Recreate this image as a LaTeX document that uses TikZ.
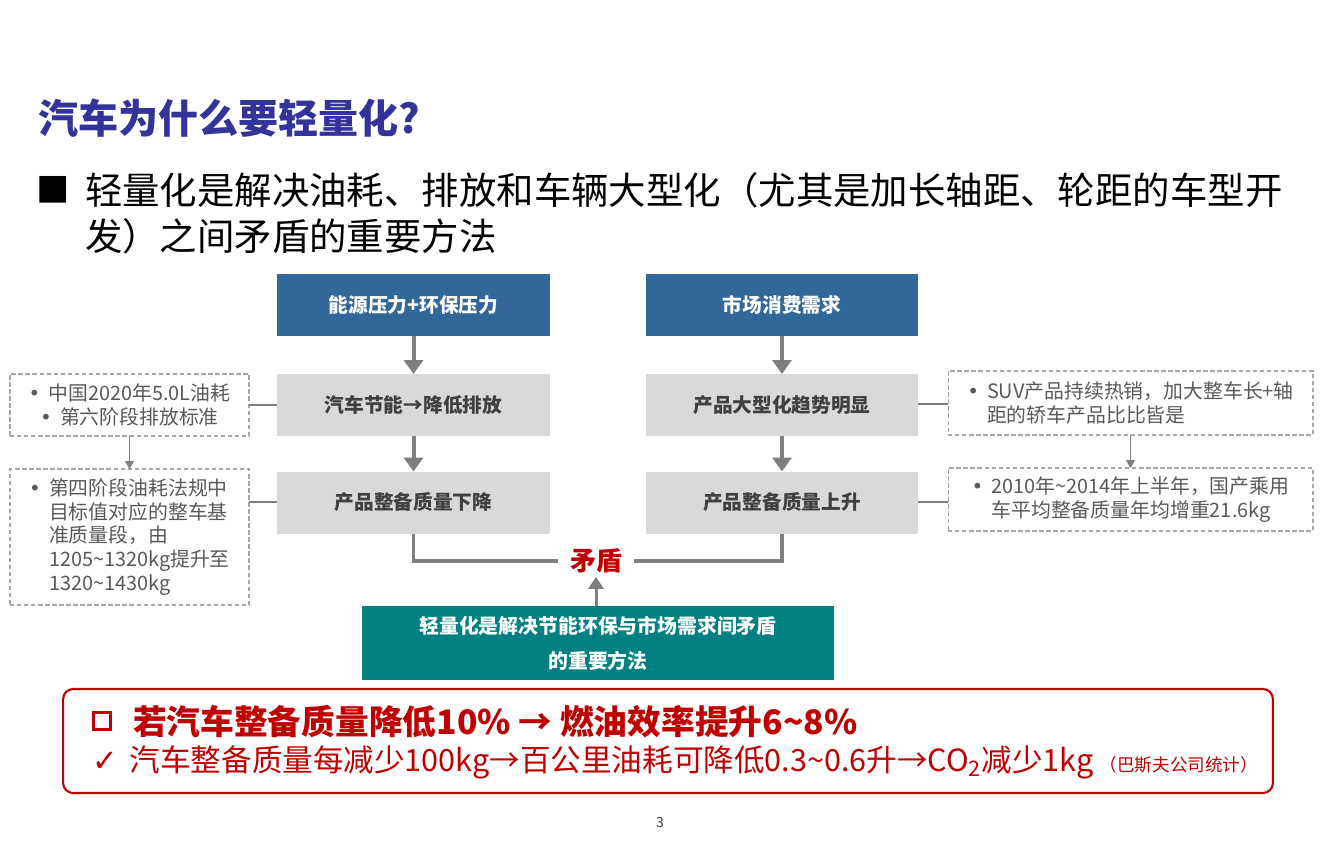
\documentclass[tikz,border=0pt]{standalone}
\usepackage{fontspec}
\setmainfont{Noto Sans CJK SC}
\newfontfamily\symfont{DejaVu Sans}
\usepackage{xcolor}
\usepackage{tikz}
\usetikzlibrary{arrows.meta, positioning}
\definecolor{slideblue}{HTML}{336699}
\definecolor{titleblue}{HTML}{333399}
\definecolor{boxgray}{HTML}{D9D9D9}
\definecolor{darktext}{HTML}{404040}
\definecolor{notetext}{HTML}{595959}
\definecolor{linegray}{HTML}{7F7F7F}
\definecolor{dashgray}{HTML}{A6A6A6}
\definecolor{slideteal}{HTML}{008080}
\definecolor{slidered}{HTML}{C00000}
\newcommand{\tild}{\textasciitilde}
\newcommand{\bul}{\makebox[1.0em][l]{{\symfont\textbullet}}}
\newcommand{\nobul}{\hspace{1.0em}}

\begin{document}
\begin{tikzpicture}[x=0.02cm, y=-0.02cm,
    every node/.style={inner sep=0pt, outer sep=0pt},
    head/.style={rectangle, fill=slideblue, text=white,
                 font=\fontsize{11.2}{13}\selectfont\bfseries,
                 minimum width=5.46cm, minimum height=1.24cm},
    mid/.style={rectangle, fill=boxgray, text=darktext,
                font=\fontsize{11.2}{13}\selectfont\bfseries,
                minimum width=5.46cm, minimum height=1.24cm},
    note/.style={rectangle, draw=dashgray, line width=0.6pt,
                 dash pattern=on 2.5pt off 1.5pt, text=notetext,
                 font=\fontsize{11.3}{13.6}\selectfont, minimum width=#1},
    arr/.style={-{Triangle[length=0.28cm, width=0.38cm]}, linegray, line width=0.08cm},
    thinarr/.style={-{Triangle[length=0.16cm, width=0.18cm]}, linegray, line width=0.6pt},
    link/.style={linegray, line width=0.6pt},
]
\useasboundingbox (0,0) rectangle (1323,850);

% title and lead text
\node[anchor=west, text=titleblue, font=\fontsize{22.8}{26}\selectfont\bfseries]
    (title) at (38,118) {汽车为什么要轻量化?};
\node[font=\fontsize{19}{24}\selectfont] (sq) at (53,190) {■};
\node[anchor=west, align=left, font=\fontsize{21.3}{26.2}\selectfont]
    (lead) at (85,213)
    {轻量化是解决油耗、排放和车辆大型化（尤其是加长轴距、轮距的车型开\\
     发）之间矛盾的重要方法};

% two chains
\node[head] (press) at (413.5,305) {能源压力+环保压力};
\node[head] (market) at (782,305) {市场消费需求};
\node[mid] (save) at (413.5,405) {汽车节能→降低排放};
\node[mid] (down) at (413.5,502.5) {产品整备质量下降};
\node[mid] (big) at (782,405) {产品大型化趋势明显};
\node[mid] (up) at (782,502.5) {产品整备质量上升};

\draw[arr] (press) -- (save);
\draw[arr] (save) -- (down);
\draw[arr] (market) -- (big);
\draw[arr] (big) -- (up);

% side notes
\node[note=4.78cm, minimum height=1.24cm, align=center] (fuel) at (129.5,405)
    {\bul 中国2020年5.0L油耗\\ \bul 第六阶段排放标准};
\node[note=4.78cm, minimum height=2.72cm, align=left] (rule) at (129.5,537)
    {\bul 第四阶段油耗法规中\\ \nobul 目标值对应的整车基\\ \nobul 准质量段，由\\
     \nobul 1205\tild1320kg提升至\\ \nobul 1320\tild1430kg};
\node[note=7.3cm, minimum height=1.28cm, align=left] (suv) at (1130.5,403)
    {\bul SUV产品持续热销，加大整车长+轴\\ \nobul 距的轿车产品比比皆是};
\node[note=7.3cm, minimum height=1.26cm, align=left] (gain) at (1130.5,499.5)
    {\bul 2010年\tild2014年上半年，国产乘用\\ \nobul 车平均整备质量年均增重21.6kg};

\draw[link] (fuel.east) -- (fuel.east -| save.west);
\draw[link] (down.west |- 0,502) -- (rule.east |- 0,502);
\draw[link] (big.east |- 0,404) -- (suv.west |- 0,404);
\draw[link] (up.east |- 0,502) -- (gain.west |- 0,502);
\draw[thinarr] (fuel) -- (rule);
\draw[thinarr] (suv) -- (gain);

% conflict
\node[text=slidered, font=\fontsize{14.8}{16}\selectfont\bfseries,
      inner xsep=0.24cm, inner ysep=2pt] (clash) at (596,561) {矛盾};
\draw[linegray, line width=0.07cm] (down.south) |- (clash.west);
\draw[linegray, line width=0.07cm] (up.south) |- (clash.east);

\node[rectangle, fill=slideteal, text=white, align=center,
      font=\fontsize{11.3}{20}\selectfont\bfseries,
      minimum width=9.44cm, minimum height=1.48cm] (way) at (598,643)
    {轻量化是解决节能环保与市场需求间矛盾\\的重要方法};
\draw[-{Triangle[length=0.24cm, width=0.3cm]}, linegray, line width=0.06cm]
    (way.north -| clash.south) -- (clash.south);

% key figures
\node[rectangle, draw=slidered, line width=1.2pt, rounded corners=0.2cm,
      minimum width=24.2cm, minimum height=2.08cm] (fact) at (668,741) {};
\node[rectangle, draw=slidered, line width=1.6pt, minimum size=0.34cm]
    (box) at (102,721) {};
\node[anchor=west, text=slidered, font=\fontsize{19.2}{20}\selectfont\bfseries]
    (factA) at (133,722) {若汽车整备质量降低10\% → 燃油效率提升6\tild8\%};
\node[anchor=west, text=slidered, font=\fontsize{17.4}{20}\selectfont]
    (factB) at (92,762) {{\symfont ✓}\hspace{0.4em}汽车整备质量每减少100kg→百公里油耗可降低0.3\tild0.6升→CO\textsubscript{2}减少1kg\hspace{0.2em}{\fontsize{10}{12}\selectfont （巴斯夫公司统计）}};

\node[text=darktext, font=\fontsize{8}{9}\selectfont] (page) at (660,822) {3};
\end{tikzpicture}
\end{document}
